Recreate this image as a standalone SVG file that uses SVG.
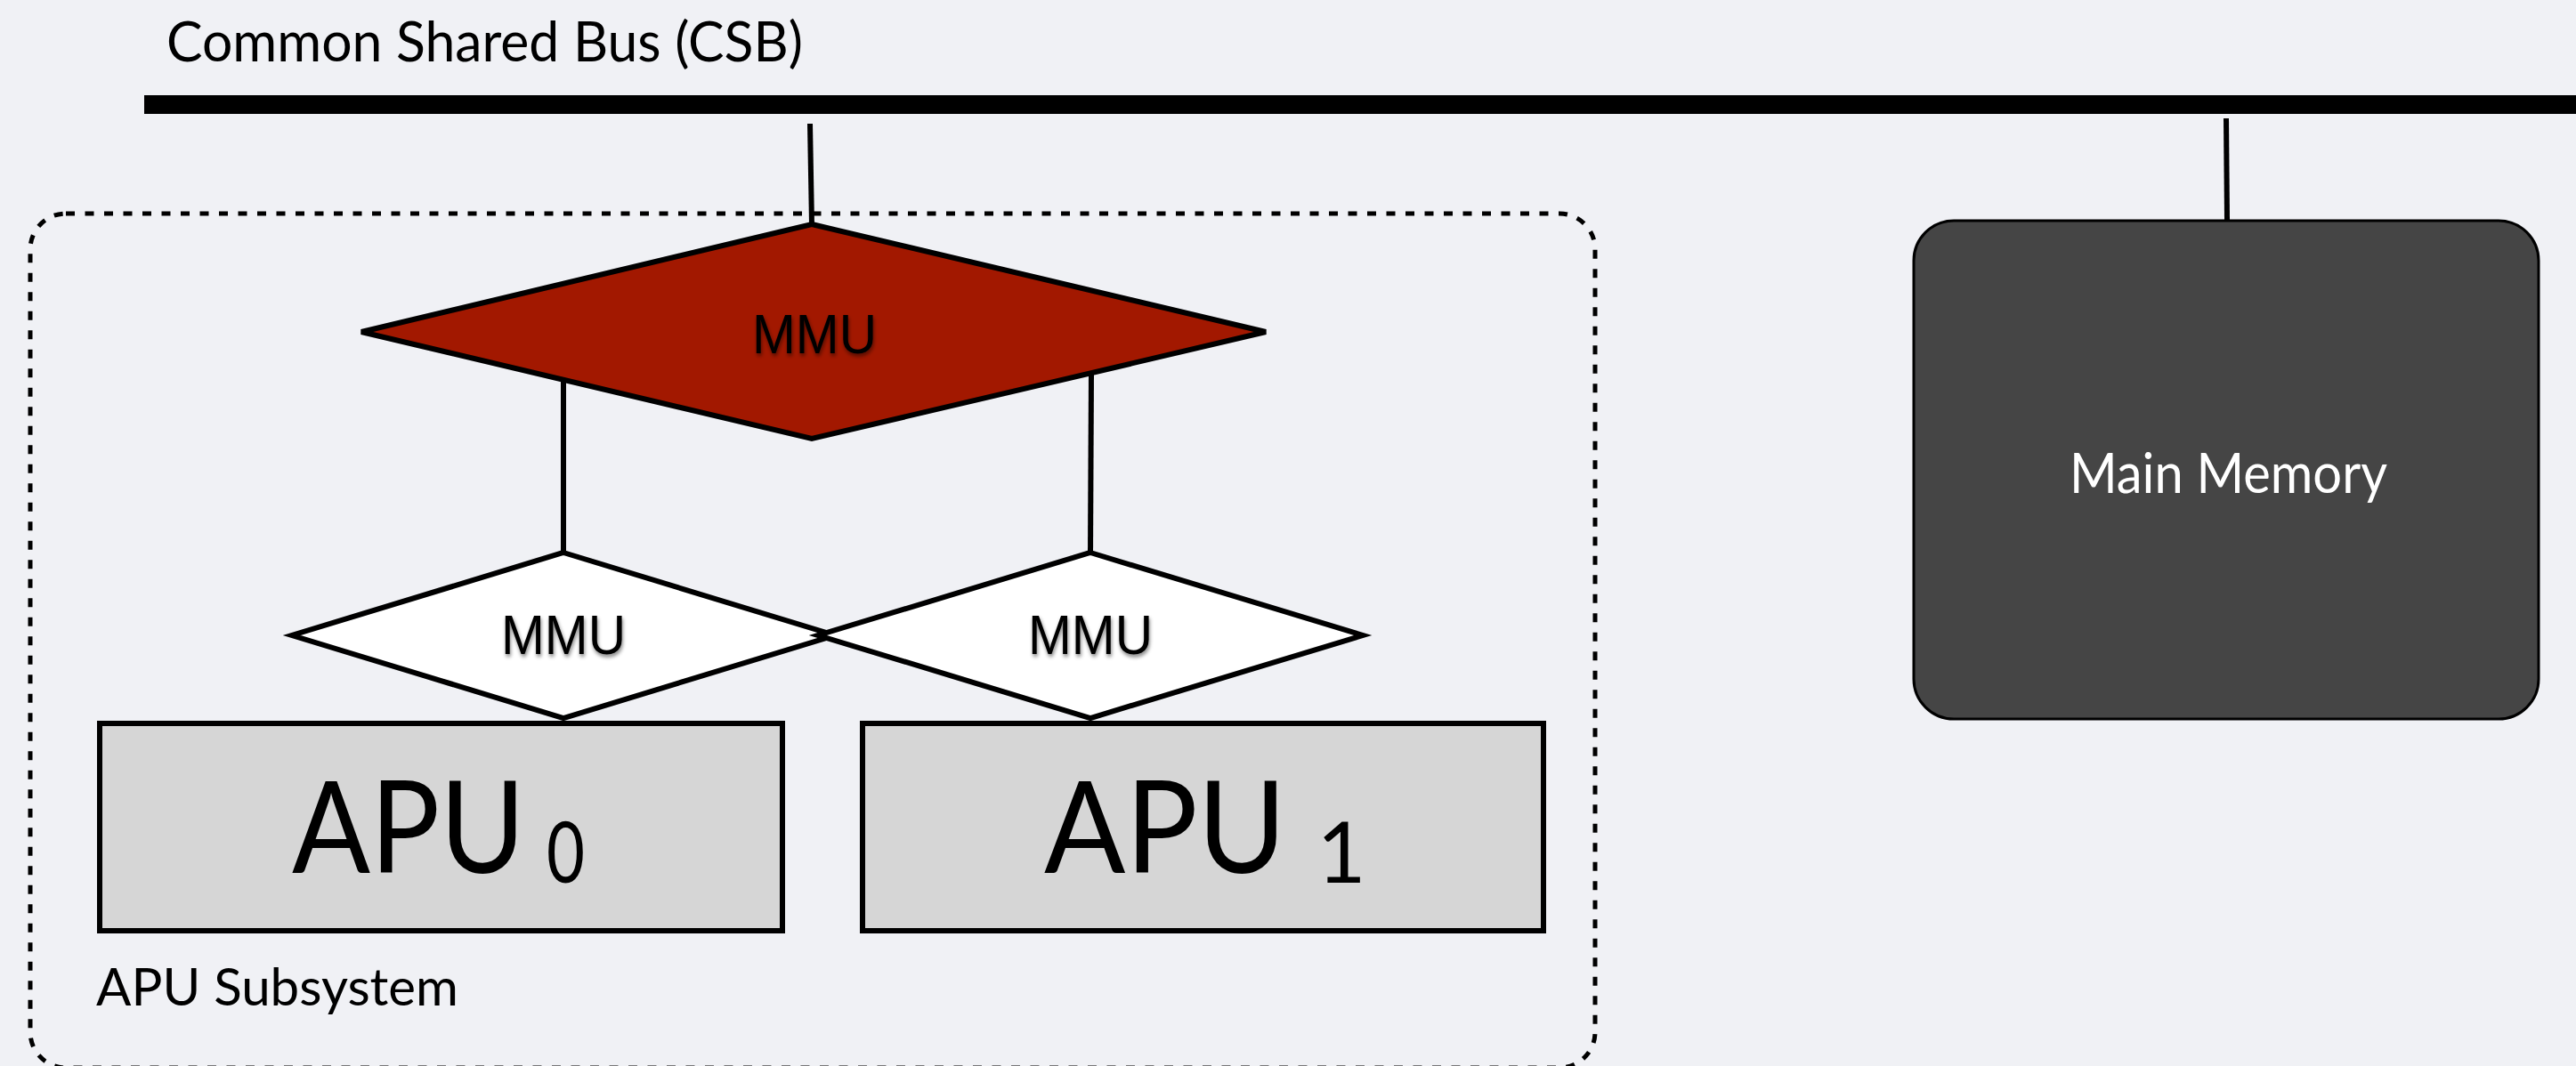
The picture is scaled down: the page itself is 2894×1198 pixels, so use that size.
<svg xmlns="http://www.w3.org/2000/svg" width="2894" height="1198" viewBox="0 0 2894 1198">
<defs>
<style>
.lbl{font-family:Lato,"Liberation Sans",sans-serif;fill:#000}
.mmu{font-family:"Liberation Sans",Arial,sans-serif;font-size:63px;fill:#000;text-anchor:middle}
.wire{stroke:#000;stroke-width:6;fill:none}
.diam{stroke:#000;stroke-width:6;stroke-linejoin:miter}
.apu{fill:#D6D6D6;stroke:#000;stroke-width:6}
</style>
<filter id="sh" x="-20%" y="-20%" width="140%" height="160%">
<feGaussianBlur in="SourceAlpha" stdDeviation="2"/>
<feOffset dx="1" dy="3" result="b"/>
<feComponentTransfer><feFuncA type="linear" slope="0.5"/></feComponentTransfer>
<feMerge><feMergeNode/><feMergeNode in="SourceGraphic"/></feMerge>
</filter>
</defs>
<rect width="2894" height="1198" fill="#F0F1F5"/>

<text class="lbl" x="187" y="69" font-size="61" textLength="715" lengthAdjust="spacingAndGlyphs">Common Shared Bus (CSB)</text>

<g id="subsystem">
<rect x="34" y="240" width="1758" height="960" rx="40" ry="40" fill="none" stroke="#000" stroke-width="5" stroke-dasharray="10 11.5"/>
<text class="lbl" x="108" y="1130" font-size="58" textLength="407" lengthAdjust="spacingAndGlyphs">APU Subsystem</text>
</g>

<g id="connectors">
<rect x="162" y="107" width="2732" height="21" fill="#000"/>
<line class="wire" x1="910" y1="139" x2="912" y2="252"/>
<line class="wire" x1="2501" y1="133" x2="2502" y2="247"/>
<line class="wire" x1="633" y1="425" x2="633" y2="622"/>
<line class="wire" x1="1226" y1="420" x2="1225" y2="622"/>
</g>

<g id="mmu-top">
<polygon class="diam" points="912,252 1422,373 912,493 406,373" fill="#A21800"/>
<text class="mmu" x="915" y="397" textLength="140" lengthAdjust="spacingAndGlyphs" filter="url(#sh)">MMU</text>
</g>

<g id="mmu-0">
<polygon class="diam" points="633,621 938,714 633,807 328,714" fill="#FFFFFF"/>
<text class="mmu" x="633" y="735" textLength="140" lengthAdjust="spacingAndGlyphs" filter="url(#sh)">MMU</text>
</g>

<g id="mmu-1">
<polygon class="diam" points="1225,621 1531,714 1225,807 919,714" fill="#FFFFFF"/>
<text class="mmu" x="1225" y="735" textLength="140" lengthAdjust="spacingAndGlyphs" filter="url(#sh)">MMU</text>
</g>

<g id="apu-0">
<rect class="apu" x="112" y="813" width="767" height="233"/>
<text class="lbl" x="328" y="981" font-size="143" textLength="262" lengthAdjust="spacingAndGlyphs">APU</text>
<text class="lbl" x="614" y="992" font-size="95" textLength="43" lengthAdjust="spacingAndGlyphs">0</text>
</g>

<g id="apu-1">
<rect class="apu" x="969" y="813" width="765" height="233"/>
<text class="lbl" x="1173" y="981" font-size="143" textLength="272" lengthAdjust="spacingAndGlyphs">APU</text>
<text class="lbl" x="1507" y="992" font-size="95" text-anchor="middle">1</text>
</g>

<g id="main-memory">
<rect x="2150" y="248" width="702" height="560" rx="45" ry="45" fill="#454545" stroke="#000" stroke-width="3"/>
<text class="lbl" x="2325" y="554" font-size="61" textLength="357" lengthAdjust="spacingAndGlyphs" style="fill:#FFFFFF">Main Memory</text>
</g>
</svg>
